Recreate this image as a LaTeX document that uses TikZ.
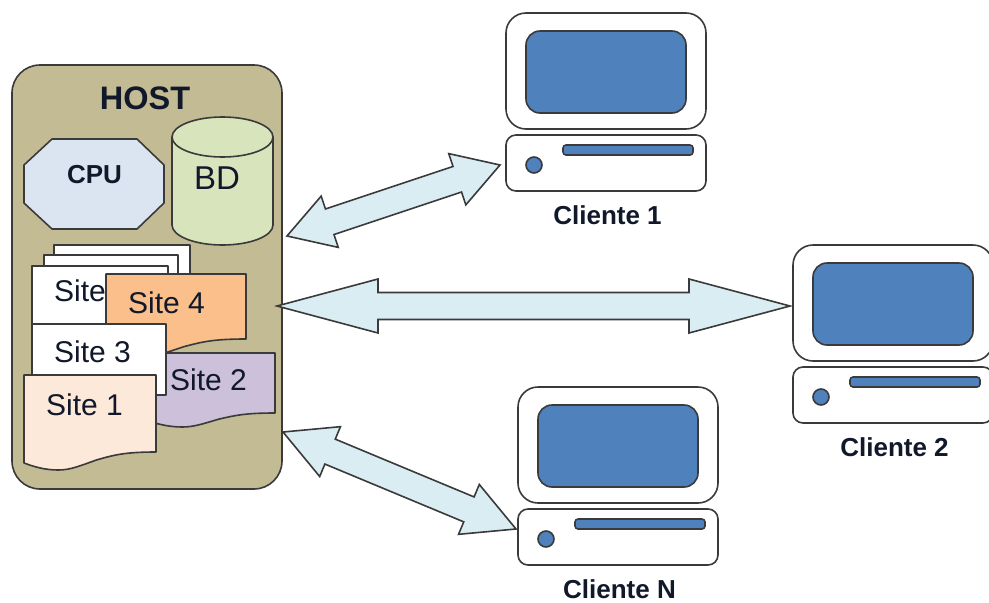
\documentclass[tikz,border=0pt]{standalone}
\usepackage{fontspec}
\setmainfont{Liberation Sans}
\usetikzlibrary{calc}
\definecolor{hostfill}{HTML}{C3BB94}
\definecolor{arrowfill}{HTML}{DAEDF3}
\definecolor{cpufill}{HTML}{DBE5F1}
\definecolor{bdfill}{HTML}{D7E4BC}
\definecolor{sitefour}{HTML}{FABF8A}
\definecolor{sitetwo}{HTML}{CCC0DA}
\definecolor{siteone}{HTML}{FDE9D9}
\definecolor{screenblue}{HTML}{4F81BD}
\definecolor{edge}{HTML}{3A3A3A}
\definecolor{ink}{HTML}{10182A}
\tikzset{
  x=1pt,y=-1pt,
  shape outline/.style={draw=edge,line width=1.6pt,line join=round},
  blockarrow/.style={shape outline,fill=arrowfill,line join=miter},
  bigtext/.style={text=ink,inner sep=0pt,font=\fontsize{32.5}{35}\selectfont\bfseries},
  cputext/.style={text=ink,inner sep=0pt,font=\fontsize{26}{29}\selectfont\bfseries},
  sitetext/.style={text=ink,inner sep=0pt,font=\fontsize{30}{33}\selectfont},
  clienttext/.style={text=ink,inner sep=0pt,font=\fontsize{26}{29}\selectfont\bfseries},
}
% document shape: x1,y1,x2,y2 (y2 = bottom at right edge), fill, wave height
\newcommand\docshape[6]{%
  \draw[shape outline,fill=#5] (#1,#2) -- (#3,#2) -- (#3,#4)
    .. controls ({#1+0.76*(#3-#1)},#4) and ({#1+0.68*(#3-#1)},{#4+0.17*#6}) .. ({#1+0.55*(#3-#1)},{#4+0.44*#6})
    .. controls ({#1+0.42*(#3-#1)},{#4+0.78*#6}) and ({#1+0.35*(#3-#1)},{#4+#6}) .. ({#1+0.26*(#3-#1)},{#4+#6})
    .. controls ({#1+0.16*(#3-#1)},{#4+#6}) and ({#1+0.08*(#3-#1)},{#4+0.83*#6}) .. (#1,{#4+0.61*#6}) -- cycle;}
% computer: name, dx, dy, label
\newcommand\computer[4]{%
  \begin{scope}[shift={(#2,#3)}]
    \draw[shape outline,fill=white,rounded corners=20pt] (506,13) rectangle (706,129);
    \draw[shape outline,fill=screenblue,rounded corners=14pt] (526,31) rectangle (686,113);
    \draw[shape outline,fill=white,rounded corners=10pt] (506,135) rectangle (706,191);
    \draw[shape outline,fill=screenblue,rounded corners=3pt] (563,145) rectangle (693,155);
    \draw[shape outline,fill=screenblue] (534,165) circle (8);
    \node[clienttext] (#1) at (607.5,215.5) {#4};
  \end{scope}}
% block arrow between two named points: a, b, head length
\newcommand\blockarrowpath[3]{%
  \coordinate (p1) at ($(#1)!#3pt!(#2)$);
  \coordinate (p2) at ($(#2)!#3pt!(#1)$);
  \draw[blockarrow] (#1) -- ($(p1)!27pt!90:(#2)$) -- ($(p1)!13.5pt!90:(#2)$)
    -- ($(p2)!13.5pt!-90:(#1)$) -- ($(p2)!27pt!-90:(#1)$) -- (#2)
    -- ($(p2)!27pt!90:(#1)$) -- ($(p2)!13.5pt!90:(#1)$)
    -- ($(p1)!13.5pt!-90:(#2)$) -- ($(p1)!27pt!-90:(#2)$) -- cycle;}
\begin{document}
\begin{tikzpicture}
\useasboundingbox (0,0) rectangle (989,603);
% host
\draw[shape outline,fill=hostfill,rounded corners=28pt] (12,65) rectangle (282,489);
\node[bigtext] (host) at (145,98.5) {HOST};
% cpu
\draw[shape outline,fill=cpufill] (52,139) -- (137,139) -- (164,165) -- (164,203) -- (137,229) -- (52,229) -- (24,203) -- (24,165) -- cycle;
\node[cputext] (cpu) at (94.5,174.5) {CPU};
% database
\draw[shape outline,fill=bdfill] (172,137) -- (172,225) arc[start angle=180,end angle=360,x radius=50.5,y radius=-20] -- (273,137) arc[start angle=0,end angle=180,x radius=50.5,y radius=-20] -- cycle;
\draw[shape outline] (172,137) arc[start angle=180,end angle=360,x radius=50.5,y radius=-20];
\node[sitetext,font=\fontsize{33}{36}\selectfont] (bd) at (217,178) {BD};
% sites
\draw[shape outline,fill=white] (54,245) rectangle (190,320);
\draw[shape outline,fill=white] (44,255) rectangle (178,320);
\draw[shape outline,fill=white] (32,266) rectangle (168,330);
\node[sitetext,anchor=west] (site5) at (54,291) {Site};
\docshape{106}{274}{246}{339}{sitefour}{18}
\node[sitetext,anchor=west] (site4) at (128,303) {Site 4};
\docshape{150}{353}{275}{413}{sitetwo}{14}
\node[sitetext,anchor=west] (site2) at (170,380) {Site 2};
\draw[shape outline,fill=white] (32,324) rectangle (166,395);
\node[sitetext,anchor=west] (site3) at (54,352) {Site 3};
\docshape{24}{375}{156}{452}{siteone}{18}
\node[sitetext,anchor=west] (site1) at (46,405) {Site 1};
% computers
\computer{cliente1}{0}{0}{Cliente 1}
\computer{cliente2}{287}{232}{Cliente 2}
\computer{clienten}{12}{374}{Cliente N}
% connectors
\coordinate (a1) at (287,236);
\coordinate (b1) at (500,165);
\coordinate (a2) at (277,306);
\coordinate (b2) at (790,306);
\coordinate (a3) at (283,432);
\coordinate (b3) at (516,529);
\blockarrowpath{a1}{b1}{45}
\blockarrowpath{a2}{b2}{101}
\blockarrowpath{a3}{b3}{51}
\end{tikzpicture}
\end{document}
